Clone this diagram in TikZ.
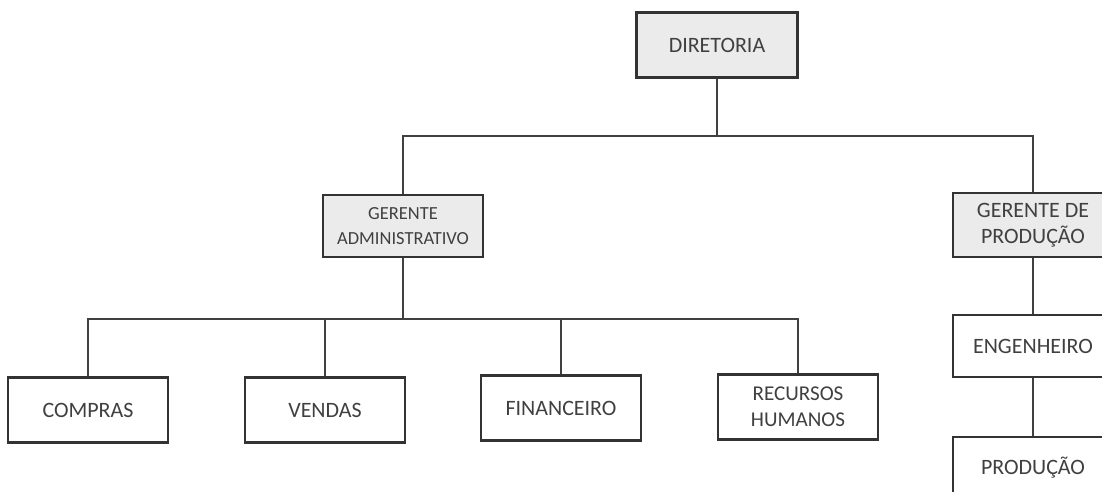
\documentclass[tikz,border=0pt]{standalone}
\usepackage{fontspec}
\setmainfont{Carlito}
\usetikzlibrary{positioning}

\begin{document}
\begin{tikzpicture}[x=0.02cm,y=-0.02cm,
  b/.style={draw=black!80,line width=1.6pt,align=center,inner sep=0pt,minimum width=3.2cm,minimum height=1.28cm,font=\fontsize{12.5}{15}\selectfont,text=black!75},
  g/.style={b,fill=black!8},
  l/.style={draw=black!75,line width=0.6pt}]
\clip (0,0) rectangle (1102,491);
\fill[white] (0,0) rectangle (1102,491);
\node[g,minimum width=3.22cm,minimum height=1.3cm] (dir) at (717,45) {DIRETORIA};
\node[g,minimum height=1.24cm,font=\fontsize{10.5}{14}\selectfont] (ga) at (403,226) {GERENTE\\ADMINISTRATIVO};
\node[g] (gp) at (1033,225) {GERENTE DE\\PRODUÇÃO};
\node[b,minimum height=1.24cm] (eng) at (1033,346) {ENGENHEIRO};
\node[b,minimum height=1.24cm] (prod) at (1033,468) {PRODUÇÃO};
\node[b,minimum height=1.3cm] (com) at (88,410) {COMPRAS};
\node[b,minimum height=1.3cm] (ven) at (325,410) {VENDAS};
\node[b,minimum height=1.3cm] (fin) at (561,408) {FINANCEIRO};
\node[b,minimum height=1.3cm,font=\fontsize{12}{15}\selectfont] (rh) at (798,407) {RECURSOS\\HUMANOS};
\coordinate (t) at (717,136);
\coordinate (m) at (403,319);
\draw[l] (dir) -- (t);
\draw[l] (ga.north) |- (t) -| (gp.north);
\draw[l] (ga) -- (m);
\draw[l] (com.north) |- (m) -| (rh.north);
\draw[l] (ven.north) -- (ven.north |- m);
\draw[l] (fin.north) -- (fin.north |- m);
\draw[l] (gp) -- (eng);
\draw[l] (eng) -- (prod);
\end{tikzpicture}
\end{document}
